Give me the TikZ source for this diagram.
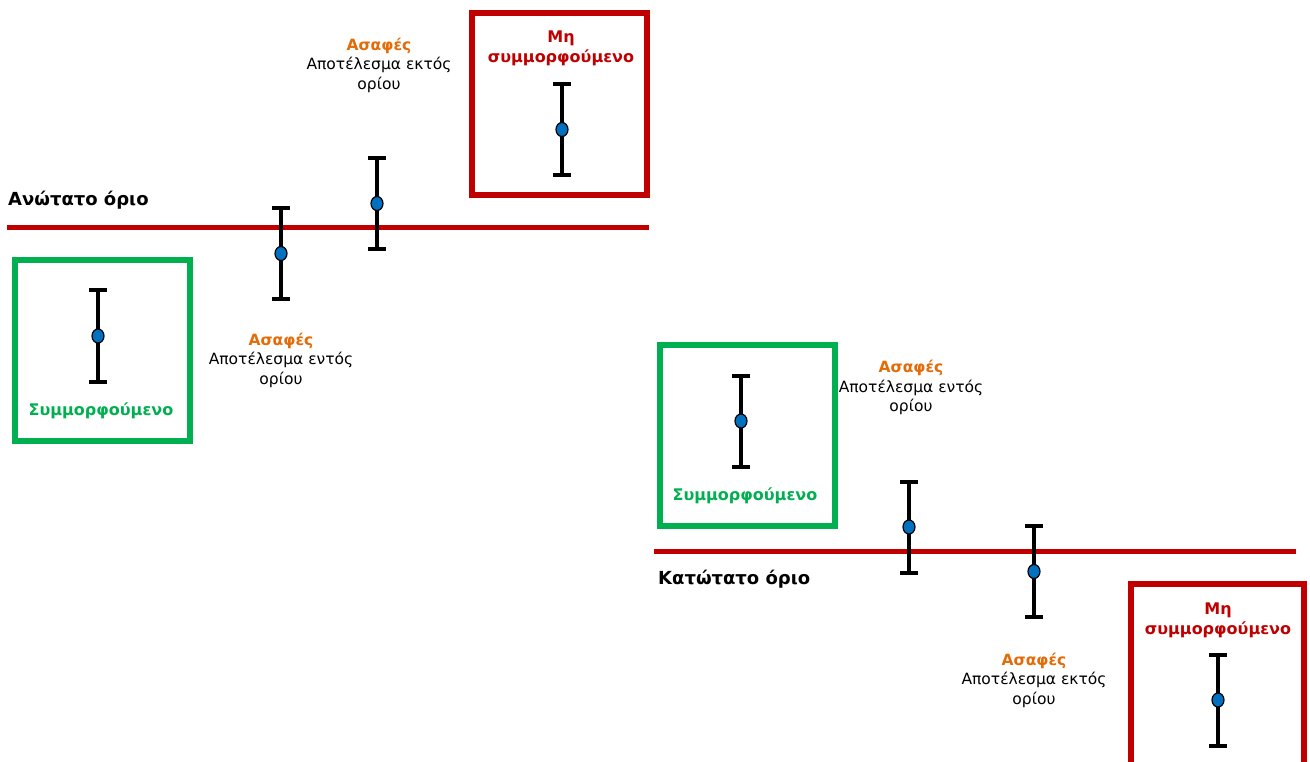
\documentclass[tikz,border=0pt]{standalone}
\usepackage{fontspec}
\setmainfont{DejaVu Sans}
\usetikzlibrary{positioning}
\usetikzlibrary{shapes.geometric}
\definecolor{limitred}{HTML}{C00000}
\definecolor{okgreen}{HTML}{00B050}
\definecolor{vagueorange}{HTML}{E36C09}
\definecolor{dotblue}{HTML}{0070C0}

\begin{document}
\begin{tikzpicture}
    [
    x=1pt, y=-1pt,
    limit/.style={line width=5pt, limitred},
    okbox/.style={draw=okgreen, line width=6pt, minimum width=175pt, minimum height=181pt, inner sep=0pt},
    badbox/.style={draw=limitred, line width=6pt, minimum width=175pt, minimum height=182pt, inner sep=0pt},
    errbar/.style={line width=4pt, black},
    dot/.style={ellipse, draw, fill=dotblue, line width=1.2pt, inner sep=0pt, minimum width=12pt, minimum height=14pt},
    txt/.style={align=center, font=\fontsize{15.5}{19.5}\selectfont},
    limitname/.style={font=\fontsize{18}{20}\selectfont\bfseries, anchor=west, inner sep=0pt},
    boxname/.style={align=center, font=\fontsize{16}{19.5}\selectfont\bfseries}
    ]
    \useasboundingbox (0,0) rectangle (1310,762);
    \clip (0,0) rectangle (1310,762);

    % limits
    \coordinate (up1) at (7,228);
    \coordinate (up2) at (649,228);
    \coordinate (lo1) at (654,551);
    \coordinate (lo2) at (1296,551);
    \draw [limit] (up1) -- (up2);
    \draw [limit] (lo1) -- (lo2);
    \node (upname) at (8,200) [limitname] {Ανώτατο όριο};
    \node (loname) at (658,579) [limitname] {Κατώτατο όριο};

    % boxes
    \node (ok1) at (102.5,350.5) [okbox] {};
    \node (ok2) at (747,435.5) [okbox] {};
    \node (bad1) at (559.5,104) [badbox] {};
    \draw [limitred, line width=6pt] (1131,800) |- (1304,584) -- (1304,800);

    \node (ok1txt) at (101,411) [boxname, text=okgreen] {Συμμορφούμενο};
    \node (ok2txt) at (745,496) [boxname, text=okgreen] {Συμμορφούμενο};
    \node (bad1txt) at (561,48.5) [boxname, text=limitred] {Μη\\συμμορφούμενο};
    \node (bad2txt) at (1218,620.5) [boxname, text=limitred] {Μη\\συμμορφούμενο};

    % error bars
    \foreach \n/\x/\y in {a/98/336, b/281/253.5, c/377/203.5, d/562/129.5,
                          e/741/421, f/909/527, g/1034/571.5, h/1218/700}
    {
      \coordinate (\n t) at (\x,{\y-45.5});
      \coordinate (\n b) at (\x,{\y+45.5});
      \draw [errbar] (\n t) -- (\n b);
      \draw [errbar] ([xshift=-9pt]\n t) -- ([xshift=9pt]\n t);
      \draw [errbar] ([xshift=-9pt]\n b) -- ([xshift=9pt]\n b);
      \node (\n) at (\x,\y) [dot] {};
    }

    % notes
    \node (note1) at (379,65) [txt] {\textcolor{vagueorange}{\bfseries Ασαφές}\\Αποτέλεσμα εκτός\\ορίου};
    \node (note2) at (281,360) [txt] {\textcolor{vagueorange}{\bfseries Ασαφές}\\Αποτέλεσμα εντός\\ορίου};
    \node (note3) at (911,387.5) [txt] {\textcolor{vagueorange}{\bfseries Ασαφές}\\Αποτέλεσμα εντός\\ορίου};
    \node (note4) at (1034,680) [txt] {\textcolor{vagueorange}{\bfseries Ασαφές}\\Αποτέλεσμα εκτός\\ορίου};
  \end{tikzpicture}
\end{document}
